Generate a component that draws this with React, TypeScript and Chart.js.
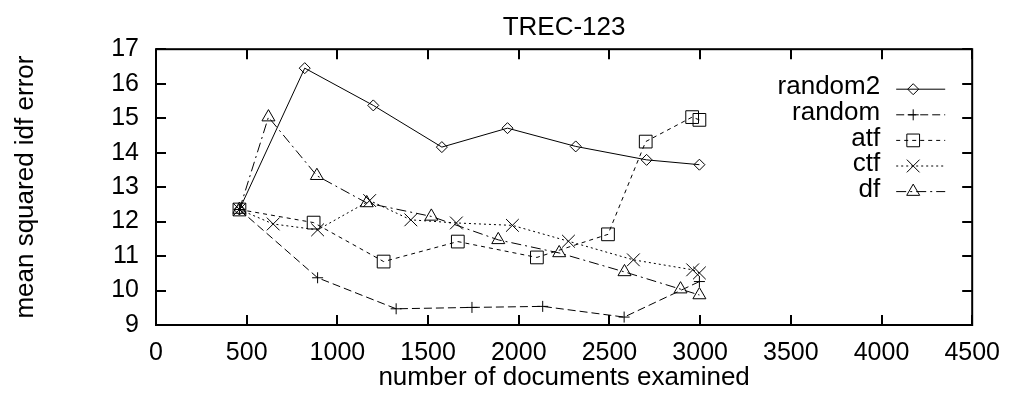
import React, { useEffect, useRef } from 'react';
import { Chart, registerables } from 'chart.js';
import { drawPoint } from 'chart.js/helpers';

Chart.register(...registerables);

const chartTitle = 'TREC-123';
const xAxisTitle = 'number of documents examined';
const yAxisTitle = 'mean squared idf error';

const xMin = 0;
const xMax = 4500;
const xStep = 500;
const yMin = 9;
const yMax = 17;
const yStep = 1;

const seriesNames = ['random2', 'random', 'atf', 'ctf', 'df'];

const random2X = [460, 820, 1198, 1576, 1938, 2314, 2705, 2996];
const random2Y = [12.35, 16.45, 15.37, 14.16, 14.71, 14.18, 13.79, 13.65];

const randomX = [460, 891, 1324, 1742, 2132, 2581, 2996];
const randomY = [12.35, 10.37, 9.47, 9.51, 9.54, 9.23, 10.26];

const atfX = [460, 869, 1255, 1664, 2100, 2492, 2700, 2956, 2996];
const atfY = [12.35, 11.97, 10.84, 11.42, 10.96, 11.63, 14.32, 15.03, 14.95];

const ctfX = [460, 646, 891, 1178, 1405, 1656, 1965, 2274, 2632, 2959, 2996];
const ctfY = [12.35, 11.93, 11.76, 12.61, 12.05, 11.96, 11.89, 11.43, 10.89, 10.6, 10.51];

const dfX = [460, 620, 887, 1162, 1518, 1887, 2223, 2583, 2892, 2996];
const dfY = [12.35, 15.03, 13.33, 12.54, 12.15, 11.47, 11.09, 10.54, 10.04, 9.87];

const FONT = "'Liberation Sans', Arial, Helvetica, sans-serif";

const toPoints = (xs: number[], ys: number[]) => xs.map((x, i) => ({ x, y: ys[i] }));

const styles = [
  { pointStyle: 'rectRot', radius: 5.5, dash: [] as number[] },
  { pointStyle: 'cross', radius: 5.5, dash: [8, 4] },
  { pointStyle: 'rect', radius: 9, dash: [4, 4] },
  { pointStyle: 'crossRot', radius: 9, dash: [2, 3] },
  { pointStyle: 'triangle', radius: 7.5, dash: [10, 4, 2, 4] },
];

const frameAndTicks = {
  id: 'frameAndTicks',
  afterDatasetsDraw(chart: any) {
    const { ctx, chartArea } = chart;
    const xs = chart.scales.x;
    const ys = chart.scales.y;
    const len = 10;
    ctx.save();
    ctx.strokeStyle = '#000';
    ctx.lineWidth = 2;
    ctx.setLineDash([]);
    ctx.beginPath();
    xs.ticks.forEach((t: any) => {
      const px = Math.round(xs.getPixelForValue(t.value));
      ctx.moveTo(px, chartArea.bottom);
      ctx.lineTo(px, chartArea.bottom - len);
      ctx.moveTo(px, chartArea.top);
      ctx.lineTo(px, chartArea.top + len);
    });
    ys.ticks.forEach((t: any) => {
      const py = Math.round(ys.getPixelForValue(t.value));
      ctx.moveTo(chartArea.left, py);
      ctx.lineTo(chartArea.left + len, py);
      ctx.moveTo(chartArea.right, py);
      ctx.lineTo(chartArea.right - len, py);
    });
    ctx.stroke();
    ctx.strokeRect(chartArea.left, chartArea.top, chartArea.right - chartArea.left, chartArea.bottom - chartArea.top);
    ctx.restore();
  },
};

const keyPlugin = {
  id: 'gnuKey',
  afterDraw(chart: any) {
    const { ctx, chartArea } = chart;
    const textRight = chartArea.right - 92;
    const lineStart = chartArea.right - 76;
    const lineEnd = chartArea.right - 27;
    const markX = chartArea.right - 59;
    ctx.save();
    ctx.font = `26px ${FONT}`;
    ctx.textAlign = 'right';
    ctx.textBaseline = 'middle';
    chart.data.datasets.forEach((ds: any, i: number) => {
      const y = chartArea.top + 40 + i * 25.6;
      ctx.fillStyle = '#000';
      ctx.fillText(ds.label, textRight, y - 2);
      ctx.strokeStyle = '#000';
      ctx.lineWidth = 1;
      ctx.setLineDash(ds.borderDash || []);
      ctx.beginPath();
      ctx.moveTo(lineStart, y);
      ctx.lineTo(lineEnd, y);
      ctx.stroke();
      ctx.setLineDash([]);
      ctx.fillStyle = 'rgba(0,0,0,0)';
      drawPoint(ctx, { pointStyle: ds.pointStyle, radius: ds.pointRadius, rotation: 0, borderWidth: 1 } as any, markX, y);
    });
    ctx.restore();
  },
};

export default function App() {
  const canvasRef = useRef<HTMLCanvasElement | null>(null);

  useEffect(() => {
    if (!canvasRef.current) return;
    const xsList = [random2X, randomX, atfX, ctfX, dfX];
    const ysList = [random2Y, randomY, atfY, ctfY, dfY];
    const datasets = seriesNames.map((name, i) => ({
      label: name,
      data: toPoints(xsList[i], ysList[i]),
      borderColor: '#000',
      borderWidth: 1,
      borderDash: styles[i].dash,
      pointStyle: styles[i].pointStyle,
      pointRadius: styles[i].radius,
      pointBorderColor: '#000',
      pointBackgroundColor: 'rgba(0,0,0,0)',
      pointBorderWidth: 1,
      fill: false,
      tension: 0,
    }));

    const chart = new Chart(canvasRef.current, {
      type: 'line',
      data: { datasets } as any,
      options: {
        animation: false,
        responsive: false,
        maintainAspectRatio: false,
        layout: { padding: { left: 0, right: 34, top: 0, bottom: 0 } },
        plugins: {
          legend: { display: false },
          tooltip: { enabled: false },
          title: {
            display: true,
            text: chartTitle,
            fullSize: false,
            color: '#000',
            font: { family: FONT, size: 26, weight: 'normal' },
            padding: { top: 12, bottom: 6 },
          },
        },
        scales: {
          x: {
            type: 'linear',
            min: xMin,
            max: xMax,
            border: { display: false },
            grid: { display: false, drawTicks: false },
            ticks: {
              stepSize: xStep,
              autoSkip: false,
              maxRotation: 0,
              padding: 13,
              color: '#000',
              font: { family: FONT, size: 25 },
              callback: (v: any) => String(v),
            },
            title: {
              display: true,
              text: xAxisTitle,
              color: '#000',
              font: { family: FONT, size: 26 },
              padding: { top: 0, bottom: 1 },
            },
            afterFit: (scale: any) => {
              scale.height = 69;
            },
          },
          y: {
            type: 'linear',
            min: yMin,
            max: yMax,
            border: { display: false },
            grid: { display: false, drawTicks: false },
            ticks: {
              stepSize: yStep,
              padding: 17,
              color: '#000',
              font: { family: FONT, size: 25 },
              callback: (v: any) => String(v),
            },
            title: {
              display: true,
              text: yAxisTitle,
              color: '#000',
              font: { family: FONT, size: 26 },
              padding: { top: 10.4, bottom: 0 },
            },
            afterFit: (scale: any) => {
              scale.width = 156;
            },
          },
        },
      },
      plugins: [frameAndTicks, keyPlugin],
    } as any);

    return () => chart.destroy();
  }, []);

  return (
    <div style={{ position: 'absolute', left: 0, top: 0, width: 1013, height: 394, background: '#fff' }}>
      <canvas ref={canvasRef} width={1013} height={394} style={{ display: 'block' }} />
    </div>
  );
}
